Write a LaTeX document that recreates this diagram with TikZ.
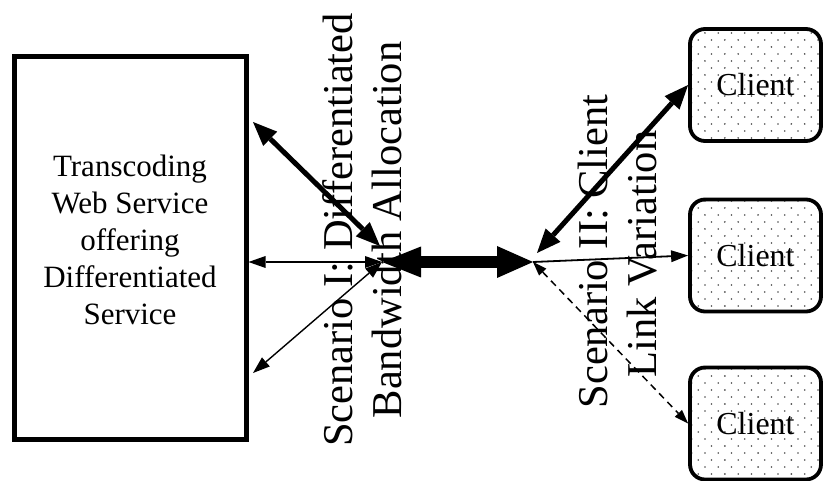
\documentclass[tikz,border=0pt]{standalone}
\usepackage{fontspec}
\setmainfont{Liberation Serif}
\usetikzlibrary{arrows.meta,patterns}

% staggered grey dot fill for the client boxes
\pgfdeclarepatternformonly{clientdots}{\pgfqpoint{-1pt}{-1pt}}{\pgfqpoint{14.3pt}{15pt}}{\pgfqpoint{13.3pt}{14pt}}{%
  \pgfpathcircle{\pgfqpoint{0pt}{0pt}}{0.9pt}%
  \pgfpathcircle{\pgfqpoint{6.65pt}{7pt}}{0.9pt}%
  \pgfusepath{fill}}

\begin{document}
\begin{tikzpicture}[x=1pt,y=-1pt,
  serverbox/.style={draw, line width=5pt, minimum width=231.5pt, minimum height=382.5pt, inner sep=0pt},
  clientbox/.style={draw, line width=3.8pt, rounded corners=15pt, minimum width=131pt, minimum height=112pt,
    pattern=clientdots, pattern color=black!70, inner sep=0pt, font=\fontsize{32}{38}\selectfont},
  boxtext/.style={align=center, inner sep=0pt, font=\fontsize{31}{37}\selectfont},
  scenario/.style={rotate=90, anchor=base, inner sep=0pt, font=\fontsize{42.5}{49}\selectfont},
  thinlink/.style={line width=1.8pt, arrows={Triangle[length=17pt,width=12pt,line width=0pt]-Triangle[length=17pt,width=12pt,line width=0pt]}},
  thicklink/.style={line width=5pt, arrows={Triangle[length=24pt,width=20pt,line width=0pt]-Triangle[length=24pt,width=20pt,line width=0pt]}},
  bandlink/.style={line width=12pt, arrows={Triangle[length=39pt,width=31pt,line width=0pt]-Triangle[length=36pt,width=32pt,line width=0pt]}},
  oneway/.style={line width=1.8pt, arrows={-Triangle[length=17pt,width=12pt,line width=0pt]}},
  dashlink/.style={line width=1.5pt, dash pattern=on 7pt off 5pt, arrows={Triangle[length=14pt,width=10pt,line width=0pt]-Triangle[length=14pt,width=10pt,line width=0pt]}}
]
\useasboundingbox (0,0) rectangle (825,481);

% service box and its caption
\node[serverbox] (server) at (130.25,247.75) {};
\node[boxtext, anchor=north] (srvtext) at (130,155)
  {Transcoding\\Web Service\\offering\\Differentiated\\Service};

% clients
\node[clientbox] (c1) at (755.5,85) {Client};
\node[clientbox] (c2) at (755.5,255.5) {Client};
\node[clientbox] (c3) at (755.5,423.5) {Client};

% hubs and free ends
\coordinate (hubL) at (382,262);
\coordinate (hubR) at (533,262);
\coordinate (hubLup) at (380,246);
\coordinate (hubRup) at (537,253);
\coordinate (ulEnd) at (253,122);
\coordinate (llEnd) at (253,373);

% scenario labels
\node[scenario] (s1a) at (352,230) {Scenario I: Differentiated};
\node[scenario] (s1b) at (401,230) {Bandwidth Allocation};
\node[scenario] (s2a) at (607,251.5) {Scenario II: Client};
\node[scenario] (s2b) at (656,254) {Link Variation};

% connectors
\draw[thinlink] (server.east |- hubL) -- (hubL);
\draw[thicklink] (ulEnd) -- (hubLup);
\draw[thinlink, line width=1.4pt] (llEnd) -- (hubL);
\draw[bandlink] (hubL) -- (hubR);
\draw[thicklink] (hubRup) -- (c1.west);
\draw[oneway] (hubR) -- (c2.west);
\draw[dashlink] (hubR) -- (c3.west);
\end{tikzpicture}
\end{document}
